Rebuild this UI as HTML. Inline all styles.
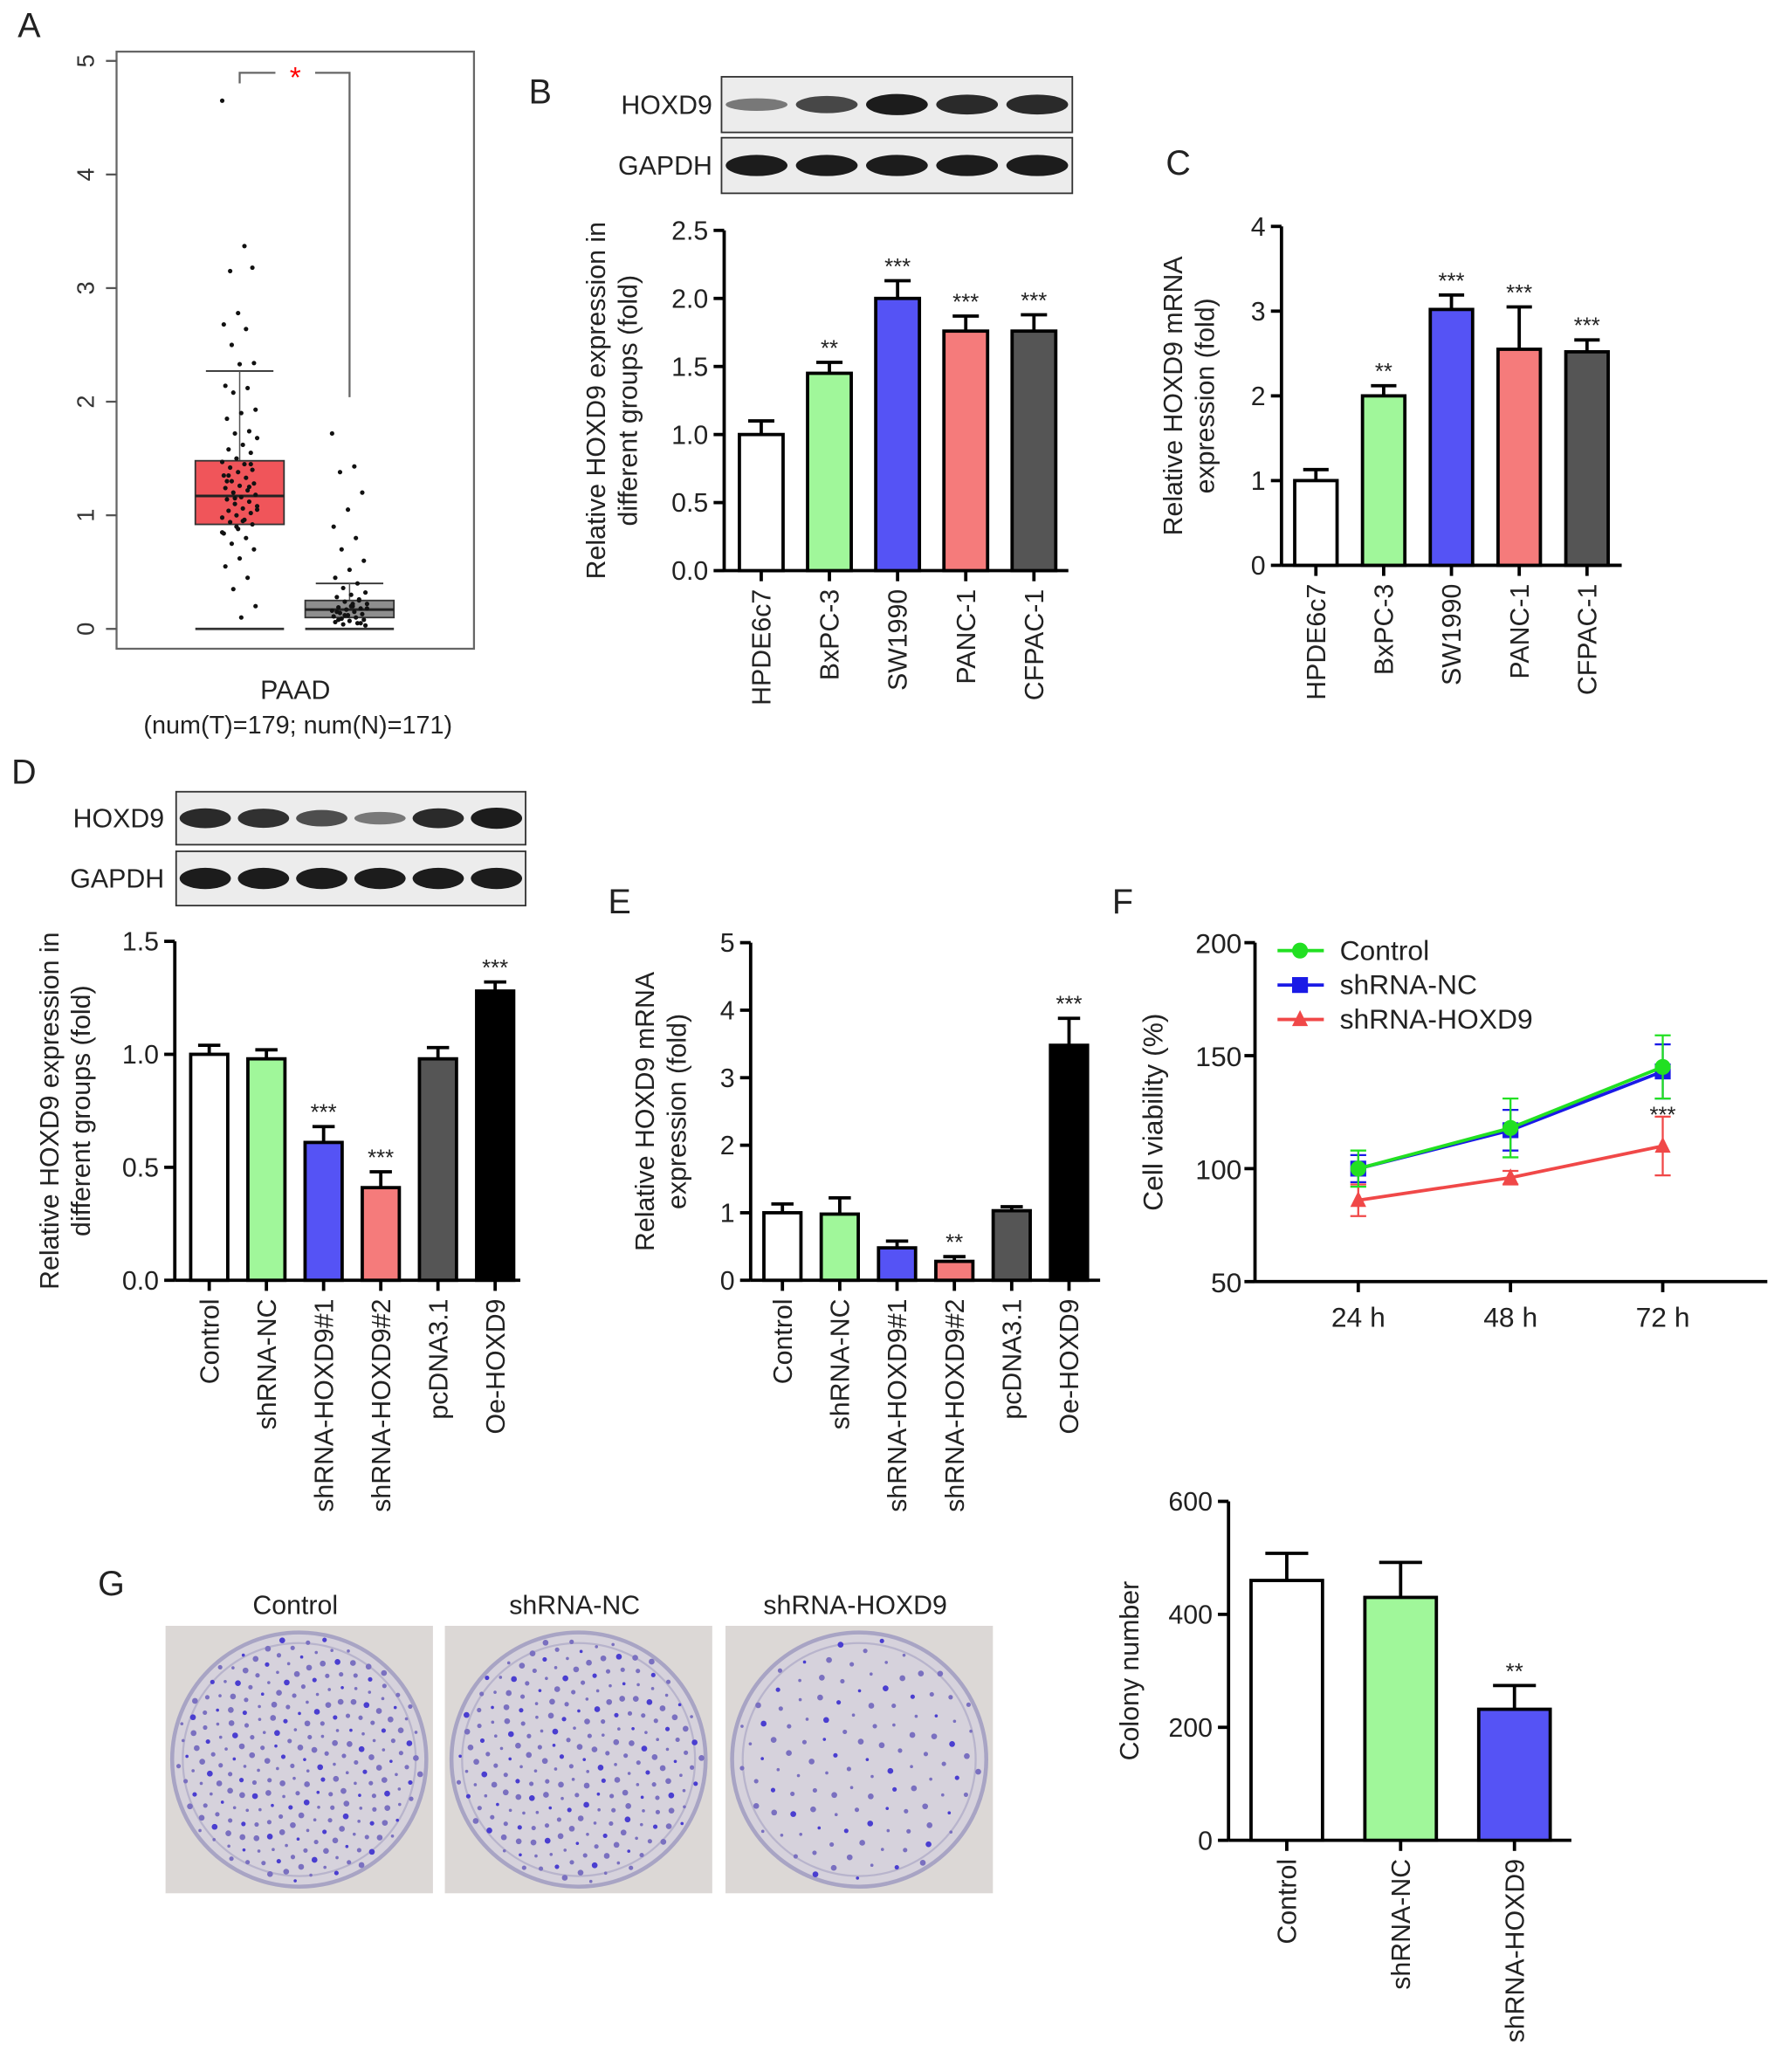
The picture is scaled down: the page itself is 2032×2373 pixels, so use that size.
<!DOCTYPE html>
<html><head><meta charset="utf-8"><style>
html,body{margin:0;padding:0;background:#fff}
svg{display:block;font-family:"Liberation Sans",Arial,sans-serif}
</style></head><body>
<svg id="fig" width="2032" height="2373" viewBox="0 0 1340 1565" xmlns="http://www.w3.org/2000/svg">
<g id="root"></g>
</svg>
<script>
// ---- data ----
const boxTumorStats=[0.0,0.92,1.17,1.48,2.27];
const boxNormalStats=[0.0,0.1,0.17,0.25,0.4];
const tumorPoints=[4.65,3.37,3.15,3.18,2.78,2.68,2.64,2.5,2.34,2.33,2.14,2.12,2.08,1.93,1.9,1.85,1.74,1.72,1.68,1.62,1.58,1.55,1.5,1.47,1.45,1.42,1.4,1.38,1.35,1.33,1.3,1.28,1.26,1.24,1.22,1.2,1.18,1.16,1.14,1.12,1.1,1.08,1.06,1.04,1.02,1.0,0.98,0.96,0.94,0.92,0.88,0.84,0.8,0.75,0.7,0.62,0.55,0.45,0.35,0.2,0.1,1.3,1.25,1.15,1.05,0.95,1.35,1.45,0.9,0.85];
const normalPoints=[1.72,1.43,1.38,1.2,1.05,0.9,0.8,0.7,0.6,0.52,0.45,0.4,0.36,0.32,0.3,0.28,0.26,0.24,0.22,0.2,0.19,0.18,0.17,0.16,0.15,0.14,0.13,0.12,0.11,0.1,0.09,0.08,0.07,0.06,0.05,0.04,0.03,0.2,0.15,0.25,0.12,0.18,0.22,0.08,0.05];
const bCats=["HPDE6c7","BxPC-3","SW1990","PANC-1","CFPAC-1"];
const bVals=[1.0,1.45,2.0,1.76,1.76];
const bErr=[0.1,0.08,0.13,0.11,0.12];
const bSig=["","**","***","***","***"];
const bTicks=["0.0","0.5","1.0","1.5","2.0","2.5"];
const cVals=[1.0,2.0,3.02,2.55,2.52];
const cErr=[0.13,0.12,0.17,0.5,0.14];
const cSig=["","**","***","***","***"];
const cTicks=["0","1","2","3","4"];
const dCats=["Control","shRNA-NC","shRNA-HOXD9#1","shRNA-HOXD9#2","pcDNA3.1","Oe-HOXD9"];
const dVals=[1.0,0.98,0.61,0.41,0.98,1.28];
const dErr=[0.04,0.04,0.07,0.07,0.05,0.04];
const dSig=["","","***","***","","***"];
const dTicks=["0.0","0.5","1.0","1.5"];
const eVals=[1.0,0.98,0.48,0.28,1.03,3.48];
const eErr=[0.13,0.24,0.1,0.07,0.06,0.4];
const eSig=["","","","**","","***"];
const eTicks=["0","1","2","3","4","5"];
const fTimes=["24 h","48 h","72 h"];
const fControl=[100,118,145];
const fControlErr=[8,13,14];
const fNC=[100,117,143];
const fNCErr=[6,9,12];
const fKD=[86,96,110];
const fKDErr=[7,3,13];
const fSig=["","*","***"];
const fTicks=["50","100","150","200"];
const gCats=["Control","shRNA-NC","shRNA-HOXD9"];
const gVals=[460,430,232];
const gErr=[48,62,42];
const gSig=["","","**"];
const gTicks=["0","200","400","600"];
const blotB=[0.35,0.7,1.0,0.9,0.9];
const blotD=[0.9,0.85,0.65,0.35,0.9,1.0];

const NS="http://www.w3.org/2000/svg";
const root=document.getElementById('root');
function el(tag,attrs,parent,text){const e=document.createElementNS(NS,tag);for(const k in attrs)e.setAttribute(k,attrs[k]);if(text!==undefined)e.textContent=text;(parent||root).appendChild(e);return e;}
function grp(name){const g=el('g',{});return g;}
function txt(g,x,y,s,opt){opt=opt||{};const a={x:x,y:y,'font-size':opt.fs||20,fill:opt.fill||'#222','text-anchor':opt.anchor||'middle'};if(opt.rot!==undefined)a.transform=`rotate(${opt.rot} ${x} ${y})`;if(opt.db)a['dominant-baseline']=opt.db;const t=el('text',a,g,s);return t;}
function line(g,x1,y1,x2,y2,st,w){return el('line',{x1,y1,x2,y2,stroke:st||'#000','stroke-width':w||2.5},g);}

// Panel letters
[['A',22,28],['B',408,78],['C',890,132],['D',18,592],['E',468,690],['F',848,690],['G',84,1205]].forEach(p=>{const g=grp('panel-label-'+p[0].toLowerCase());txt(g,p[1],p[2],p[0],{fs:26,name:'panel-letter'});});

// ---- Panel A boxplot ----
(function(){
const g=grp('panel-a-boxplot');
const y0=475,yk=(475-46)/5;const Y=v=>y0-v*yk;
el('rect',{x:88,y:39,width:270,height:451,fill:'none',stroke:'#666','stroke-width':1.5},g);
for(let i=0;i<=5;i++){line(g,80,Y(i),88,Y(i),'#555',1.5);txt(g,66,Y(i),String(i),{fs:18,rot:-90,db:'middle',fill:'#333',name:'y-tick-label'});}
function box(st,cx,w,fill,pts,name){
 const b=grp(name);
 line(b,cx-w/2,Y(st[0]),cx+w/2,Y(st[0]),'#333',1.8);
 line(b,cx-w/2+8,Y(st[4]),cx+w/2-8,Y(st[4]),'#333',1.2);
 line(b,cx,Y(st[3]),cx,Y(st[4]),'#555',1);
 el('rect',{x:cx-w/2,y:Y(st[3]),width:w,height:Y(st[1])-Y(st[3]),fill:fill,stroke:'#333','stroke-width':1.2},b);
 line(b,cx-w/2,Y(st[2]),cx+w/2,Y(st[2]),'#222',2);
 pts.forEach((v,i)=>{const jit=((i*37)%23-11)*1.2;const c=el('circle',{cx:cx+jit,cy:Y(v),r:1.7,fill:'#111'},b);});
}
box(boxTumorStats,181,67,'#f0555a',tumorPoints,'tumor-box');
box(boxNormalStats,264,67,'#8e8e8e',normalPoints,'normal-box');
el('path',{d:`M181 63 V55 H208 M238 55 H264 V300`,fill:'none',stroke:'#666','stroke-width':1.5},g);
txt(g,223,66,'*',{fs:22,fill:'#f00',name:'significance-star'});
txt(g,223,528,'PAAD',{fs:20,name:'x-label'});
txt(g,225,554,'(num(T)=179; num(N)=171)',{fs:19,name:'sample-size-label'});
})();

// ---- blots ----
function blot(x,y,w,h,vals,name,label,lx){
 const g=grp(name);
 el('rect',{x,y,width:w,height:h,fill:'#ececec',stroke:'#333','stroke-width':1.2},g);
 const n=vals.length,step=w/n;
 vals.forEach((v,i)=>{const cx=x+step*(i+0.5);const bw=step*0.88;el('ellipse',{cx,cy:y+h/2,rx:bw/2,ry:3+5*v,fill:'#111','fill-opacity':0.3+0.65*v},g);});
 txt(g,lx,y+h/2+7,label,{fs:20,anchor:'end',name:'blot-label'});
}
blot(545,58,265,42,blotB,'blot-b-hoxd9','HOXD9',538);
blot(545,104,265,42,[1,1,1,1,1],'blot-b-gapdh','GAPDH',538);
blot(133,598,264,40,blotD,'blot-d-hoxd9','HOXD9',124);
blot(133,643,264,41,[1,1,1,1,1,1],'blot-d-gapdh','GAPDH',124);

// ---- bar chart ----
function barChart(o){
 const g=grp(o.name);
 const Y=v=>o.y0-(v/o.max)*(o.y0-o.yTop);
 line(g,o.axX,o.y0,o.axX,o.yTop,'#000',2.5);
 line(g,o.axX,o.y0,o.xEnd,o.y0,'#000',2.5);
 o.ticks.forEach((t,i)=>{const v=o.max*i/(o.ticks.length-1);line(g,o.axX-8,Y(v),o.axX,Y(v));txt(g,o.axX-12,Y(v)+7,t,{fs:20,anchor:'end',name:'y-tick-label'});});
 o.vals.forEach((v,i)=>{
  const cx=o.first+o.step*i;
  const eTop=Y(v+o.err[i]);
  line(g,cx,Y(v),cx,eTop,'#000',2.5);line(g,cx-o.bw*0.3,eTop,cx+o.bw*0.3,eTop,'#000',2.5);
  const r=el('rect',{x:cx-o.bw/2,y:Y(v),width:o.bw,height:o.y0-Y(v),fill:o.colors[i],stroke:'#000','stroke-width':2.5},g);
  
  if(o.sig[i])txt(g,cx,eTop-5,o.sig[i],{fs:17,name:'significance-marker'});
  line(g,cx,o.y0,cx,o.y0+8);
  txt(g,cx+7,o.y0+14,o.cats[i],{fs:20,anchor:'end',rot:-90,name:'x-tick-label'});
 });
 o.ylab.forEach((s,k)=>txt(g,o.ylx+k*24,(o.y0+o.yTop)/2,s,{fs:20,rot:-90,name:'y-axis-title'}));
}
const W='#ffffff',GR='#a0f79a',BL='#5553f5',PK='#f57b7b',DK='#555555',BK='#000000';
barChart({name:'panel-b-chart',vals:bVals,err:bErr,sig:bSig,cats:bCats,ticks:bTicks,max:2.5,axX:547,xEnd:807,first:575,step:51.5,y0:431,yTop:174,bw:33,colors:[W,GR,BL,PK,DK],ylab:['Relative HOXD9 expression in','different groups (fold)'],ylx:457});
barChart({name:'panel-c-chart',vals:cVals,err:cErr,sig:cSig,cats:bCats,ticks:cTicks,max:4,axX:968,xEnd:1225,first:994,step:51.2,y0:427,yTop:171,bw:32,colors:[W,GR,BL,PK,DK],ylab:['Relative HOXD9 mRNA','expression (fold)'],ylx:893});
barChart({name:'panel-d-chart',vals:dVals,err:dErr,sig:dSig,cats:dCats,ticks:dTicks,max:1.5,axX:132,xEnd:393,first:158,step:43.2,y0:967,yTop:711,bw:28,colors:[W,GR,BL,PK,DK,BK],ylab:['Relative HOXD9 expression in','different groups (fold)'],ylx:44});
barChart({name:'panel-e-chart',vals:eVals,err:eErr,sig:eSig,cats:dCats,ticks:eTicks,max:5,axX:567,xEnd:831,first:591,step:43.3,y0:967,yTop:712,bw:28,colors:[W,GR,BL,PK,DK,BK],ylab:['Relative HOXD9 mRNA','expression (fold)'],ylx:494});
barChart({name:'panel-g-chart',vals:gVals,err:gErr,sig:gSig,cats:gCats,ticks:gTicks,max:600,axX:928,xEnd:1187,first:972,step:86,y0:1390,yTop:1134,bw:54,colors:[W,GR,BL],ylab:['Colony number'],ylx:860});

// ---- Panel F line chart ----
(function(){
const g=grp('panel-f-line-chart');
const axX=948,y0=968,yTop=712,xEnd=1335;
const Y=v=>y0-(v-50)/150*(y0-yTop);const X=i=>1026+i*115;
line(g,axX,y0,axX,yTop);line(g,axX,y0,xEnd,y0);
fTicks.forEach(t=>{const v=+t;line(g,axX-8,Y(v),axX,Y(v));txt(g,axX-10,Y(v)+8,t,{fs:21,anchor:'end',name:'y-tick-label'});});
fTimes.forEach((t,i)=>{line(g,X(i),y0,X(i),y0+8);txt(g,X(i),y0+34,t,{fs:21,name:'x-tick-label'});});
txt(g,878,840,'Cell viability (%)',{fs:21,rot:-90,name:'y-axis-title'});
function series(vals,errs,col,marker,name){
 const s=grp(name);
 el('polyline',{points:vals.map((v,i)=>X(i)+','+Y(v)).join(' '),fill:'none',stroke:col,'stroke-width':2.5},s);
 vals.forEach((v,i)=>{line(s,X(i),Y(v-errs[i]),X(i),Y(v+errs[i]),col,1.5);line(s,X(i)-6,Y(v+errs[i]),X(i)+6,Y(v+errs[i]),col,1.5);line(s,X(i)-6,Y(v-errs[i]),X(i)+6,Y(v-errs[i]),col,1.5);
  let m;if(marker==='c')m=el('circle',{cx:X(i),cy:Y(v),r:6,fill:col},s);else if(marker==='s')m=el('rect',{x:X(i)-6,y:Y(v)-6,width:12,height:12,fill:col},s);else m=el('polygon',{points:`${X(i)},${Y(v)-7} ${X(i)-6},${Y(v)+5} ${X(i)+6},${Y(v)+5}`,fill:col},s);
  });
}
series(fKD,fKDErr,'#f04848','t','series-shrna-hoxd9');
series(fNC,fNCErr,'#1a1ae6','s','series-shrna-nc');
series(fControl,fControlErr,'#22e022','c','series-control');
fSig.forEach((s,i)=>{if(s)txt(g,X(i),Y(fControl[i]-fControlErr[i])+ (i===1?26:18),s,{fs:17,name:'significance-marker'});});
const L=[['Control','#22e022','c'],['shRNA-NC','#1a1ae6','s'],['shRNA-HOXD9','#f04848','t']];
L.forEach((l,k)=>{const lg=grp('legend-entry');const y=718+k*26;line(lg,965,y,1000,y,l[1],2.5);
 if(l[2]==='c')el('circle',{cx:982,cy:y,r:6,fill:l[1]},lg);else if(l[2]==='s')el('rect',{x:976,y:y-6,width:12,height:12,fill:l[1]},lg);else el('polygon',{points:`982,${y-7} 976,${y+5} 988,${y+5}`,fill:l[1]},lg);
 txt(lg,1012,y+7,l[0],{fs:21,anchor:'start',name:'legend-label'});});
})();

// ---- Panel G plates ----
(function(){
const g=grp('panel-g-plates');
const plates=[[125,'Control',1.0],[336,'shRNA-NC',0.9],[548,'shRNA-HOXD9',0.45]];
plates.forEach((p,k)=>{
 const pg=grp('plate-'+p[1].toLowerCase());
 el('rect',{x:p[0],y:1228,width:202,height:202,fill:'#dcd8d6'},pg);
 const cx=p[0]+101,cy=1329;
 el('circle',{cx,cy,r:96,fill:'#d6d2dc',stroke:'#a8a4c4','stroke-width':3},pg);
 el('circle',{cx,cy,r:88,fill:'none',stroke:'#b8b4cc','stroke-width':1.5},pg);
 const n=Math.round(260*p[2]);
 for(let i=0;i<n;i++){const a=i*2.39996;const r=93*Math.sqrt((i+0.5)/n);el('circle',{cx:cx+r*Math.cos(a),cy:cy+r*Math.sin(a),r:1.2+(i%3)*0.5,fill:(i%4===0)?'#4a3ed0':'#7a70c0'},pg);}
 txt(pg,p[0]+98,1219,p[1],{fs:20,name:'plate-title'});
});
})();
</script>
</body></html>
